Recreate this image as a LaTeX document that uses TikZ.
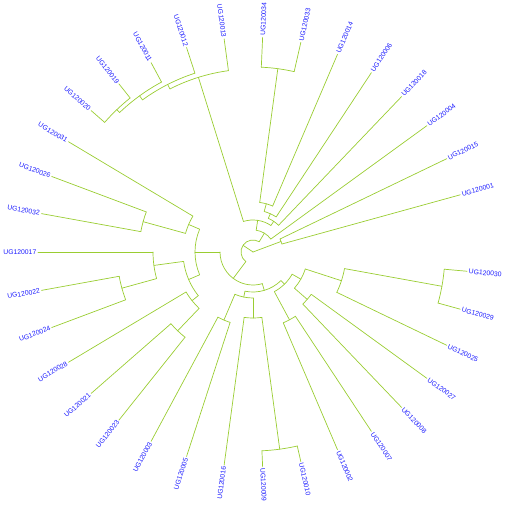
\documentclass[tikz,border=0pt]{standalone}
\usepackage{fontspec}
\setmainfont{Liberation Sans}
\usepackage{tikz}
\definecolor{treegreen}{HTML}{9ACD32}
\definecolor{tipblue}{HTML}{1A1AFF}
\tikzset{
  branch/.style={draw=treegreen, line width=0.7pt, line cap=round},
  tiplabel/.style={text=tipblue, font=\fontsize{6.8}{7}\selectfont, inner sep=1.5pt},
}
\newcommand{\tipr}{215}
% tip i sits at (i+1.5)*360/35 degrees
\newcommand{\leaf}[2]{%
  \pgfmathsetmacro{\angT}{(#2+1.5)*360/35}%
  \expandafter\xdef\csname ang@#1\endcsname{\angT}%
  \coordinate (#1) at (\angT:\tipr pt);
  \pgfmathsetmacro{\cosT}{cos(\angT)}%
  \ifdim\cosT pt<0pt
    \pgfmathsetmacro{\rotT}{\angT+180}%
    \node[tiplabel, anchor=east, rotate=\rotT] (lab#1) at (#1) {UG1200#1};
  \else
    \node[tiplabel, anchor=west, rotate=\angT] (lab#1) at (#1) {UG1200#1};
  \fi
}
% internal node: name, radius, two children
\newcommand{\clade}[4]{%
  \edef\angA{\csname ang@#3\endcsname}%
  \edef\angB{\csname ang@#4\endcsname}%
  \pgfmathsetmacro{\angM}{(\angA+\angB)/2}%
  \expandafter\xdef\csname ang@#1\endcsname{\angM}%
  \coordinate (#1) at (\angM:#2pt);
  \coordinate (#1-#3) at (\angA:#2pt);
  \coordinate (#1-#4) at (\angB:#2pt);
  \draw[branch] (#1-#3) -- (#3);
  \draw[branch] (#1-#4) -- (#4);
  \draw[branch] (#1-#3) arc[start angle=\angA, end angle=\angB, radius=#2pt];
}

\begin{document}
\begin{tikzpicture}
  \useasboundingbox (-253pt,-259pt) rectangle (258pt,252pt);
  \foreach \tipname/\tipidx in {01/0,15/1,04/2,18/3,06/4,14/5,33/6,34/7,13/8,12/9,11/10,
      19/11,20/12,31/13,26/14,32/15,17/16,22/17,24/18,28/19,21/20,23/21,03/22,05/23,
      16/24,09/25,10/26,02/27,07/28,08/29,27/30,25/31,29/32,30/33}
    {\leaf{\tipname}{\tipidx}}
  % upper left
  \clade{a2019}{197}{20}{19}
  \clade{a11}{193}{a2019}{11}
  \clade{a12}{188}{a11}{12}
  \clade{a13}{183}{a12}{13}
  % top
  \clade{b3433}{185}{34}{33}
  \clade{b14}{50}{b3433}{14}
  \clade{b06}{42}{b14}{06}
  \clade{b18}{37}{b06}{18}
  \clade{b0}{32}{a13}{b18}
  \clade{b04}{22}{b0}{04}
  \clade{c1501}{30}{15}{01}
  % left
  \clade{d2632}{114}{26}{32}
  \clade{d31}{70}{31}{d2632}
  \clade{d2224}{136}{22}{24}
  \clade{d17}{100}{17}{d2224}
  \clade{d2123}{109}{21}{23}
  \clade{d28}{78}{28}{d2123}
  \clade{d1728}{70}{d17}{d28}
  \clade{d58}{58}{d31}{d1728}
  % bottom
  \clade{e0305}{74}{03}{05}
  \clade{e0910}{199}{09}{10}
  \clade{e16}{66}{16}{e0910}
  \clade{e47}{46}{e0305}{e16}
  \clade{f0207}{77}{02}{07}
  \clade{f0827}{72}{08}{27}
  \clade{f2930}{192}{29}{30}
  \clade{f25}{93}{25}{f2930}
  \clade{f55}{55}{f0827}{f25}
  \clade{f45}{45}{f0207}{f55}
  \clade{e40}{40}{e47}{f45}
  \clade{g33}{33}{d58}{e40}
  \clade{g12}{12}{g33}{b04}
  \coordinate (root) at (0,0);
  \draw[branch] (root) -- (g12);
  \draw[branch] (root) -- (c1501);
\end{tikzpicture}
\end{document}
